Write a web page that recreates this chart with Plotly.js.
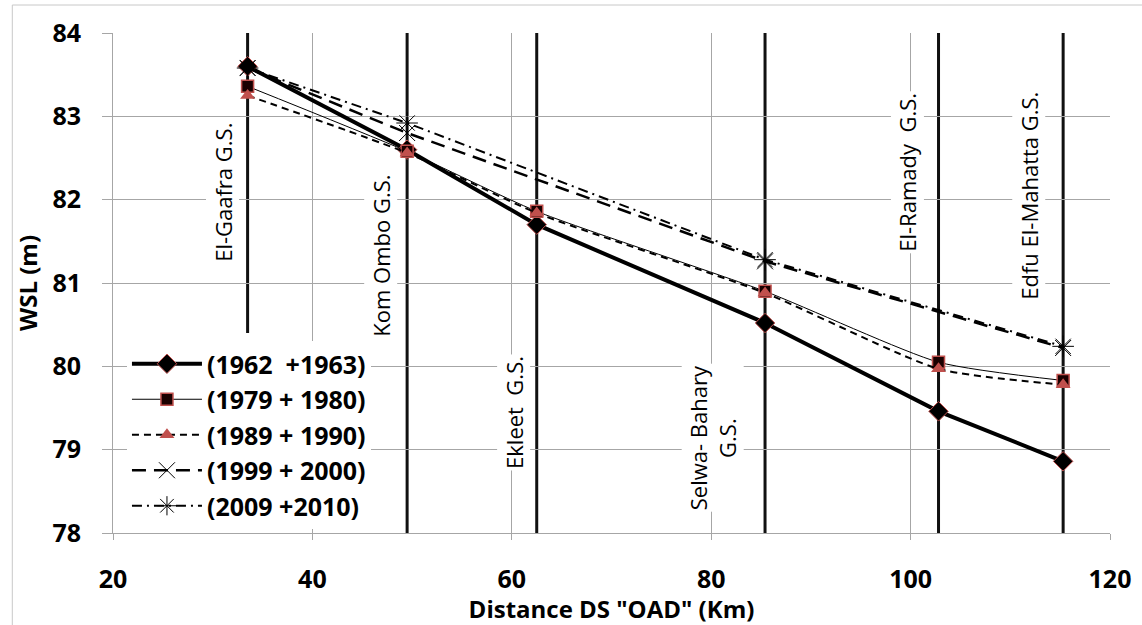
<!DOCTYPE html>
<html>
<head>
<meta charset="utf-8">
<script src="https://cdn.plot.ly/plotly-3.0.1.min.js"></script>
<style>html,body{margin:0;padding:0;background:#fff;}#chart{width:1142px;height:625px;}</style>
</head>
<body>
<div id="chart"></div>
<script>
// Station positions (km downstream of OAD)
const stationNames = ["El-Gaafra G.S.", "Kom Ombo G.S.", "Ekleet  G.S.", "Selwa- Bahary<br>G.S.", "El-Ramady  G.S.", "Edfu El-Mahatta G.S."];
const stationX = [33.5, 49.5, 62.5, 85.4, 102.8, 115.3];
const stationLineBottom = [80.4, 78, 78, 78, 78, 78];
const labelX = [31.0, 46.8, 60.2, 80.1, 99.7, 111.8];
const labelY = [82.09, 81.33, 79.45, 79.14, 82.33, 82.05];

// Water surface levels (m)
const x1962 = [33.5, 49.5, 62.5, 85.4, 102.8, 115.3];
const wsl1962 = [83.60, 82.60, 81.70, 80.52, 79.46, 78.86];
const x1979 = [33.5, 49.5, 62.5, 85.4, 102.8, 115.3];
const wsl1979 = [83.36, 82.58, 81.86, 80.90, 80.05, 79.83];
const x1989 = [33.5, 49.5, 62.5, 85.4, 102.8, 115.3];
const wsl1989 = [83.25, 82.56, 81.84, 80.88, 79.97, 79.78];
const x1999 = [33.5, 49.5, 85.4, 115.3];
const wsl1999 = [83.58, 82.80, 81.26, 80.22];
const x2009 = [33.5, 49.5, 85.4, 115.3];
const wsl2009 = [83.58, 82.92, 81.28, 80.24];

const seriesNames = ["(1962  +1963)", "(1979 + 1980)", "(1989 + 1990)", "(1999 + 2000)", "(2009 +2010)"];

const red = "#c0504d";
const traces = [
  {x: x1962, y: wsl1962, name: seriesNames[0], mode: "lines+markers",
   line: {color: "#000", width: 4},
   marker: {symbol: "diamond", size: 15, color: "#000", line: {color: red, width: 1}}},
  {x: x1979, y: wsl1979, name: seriesNames[1], mode: "lines+markers",
   line: {color: "#000", width: 1, shape: "spline", smoothing: 0.6},
   marker: {symbol: "square", size: 12, color: "#1a0000", line: {color: red, width: 1.5}}},
  {x: x1989, y: wsl1989, name: seriesNames[2], mode: "lines+markers",
   line: {color: "#000", width: 2, dash: "7px,5px", shape: "spline", smoothing: 0.6},
   marker: {symbol: "triangle-up", size: 13, color: red}},
  {x: x1999, y: wsl1999, name: seriesNames[3], mode: "lines+markers",
   line: {color: "#000", width: 2.5, dash: "14px,8px"},
   marker: {symbol: "x-thin-open", size: 16, color: "#000", line: {color: "#333", width: 1}}},
  {x: x2009, y: wsl2009, name: seriesNames[4], mode: "lines+markers",
   line: {color: "#000", width: 2, dash: "10px,5px,2px,5px"},
   marker: {symbol: "asterisk-open", size: 18, color: "#000", line: {color: "#333", width: 1}}}
];

const shapes = stationX.map((sx, i) => ({
  type: "line", xref: "x", yref: "y", x0: sx, x1: sx, y0: 84, y1: stationLineBottom[i],
  line: {color: "#111", width: 3}, layer: "below"
}));
shapes.push({type: "rect", xref: "paper", yref: "paper", x0: -0.101, x1: 1.05, y0: -0.25, y1: 1.056,
  line: {color: "#c8c8c8", width: 1}});

const annotations = stationNames.map((t, i) => ({
  x: labelX[i], y: labelY[i], xref: "x", yref: "y", text: t, showarrow: false,
  textangle: -90, bgcolor: "rgba(255,255,255,1)",
  font: {family: "Open Sans, Liberation Sans, sans-serif", size: 22, color: "#000"}
}));

const tickFont = {family: "Open Sans, Liberation Sans, sans-serif", size: 25, color: "#000", weight: "bold"};
const titleFont = {family: "Open Sans, Liberation Sans, sans-serif", size: 24, color: "#000", weight: "bold"};

const layout = {
  width: 1142, height: 625,
  margin: {l: 113, r: 32, t: 33, b: 92},
  paper_bgcolor: "#fff", plot_bgcolor: "#fff",
  showlegend: true,
  legend: {x: 0.014, y: 0.384, xanchor: "left", yanchor: "top", bgcolor: "#fff",
    font: {family: "Open Sans, Liberation Sans, sans-serif", size: 25, color: "#000", weight: "bold"},
    tracegroupgap: 0, itemwidth: 70},
  xaxis: {range: [20, 120], tickvals: [20, 40, 60, 80, 100, 120], showgrid: true, gridcolor: "#a6a6a6", gridwidth: 1,
    zeroline: false, showline: true, linecolor: "#a6a6a6", ticks: "outside", ticklen: 6, tickcolor: "#a6a6a6",
    tickfont: tickFont, ticklabelstandoff: 18,
    title: {text: "Distance DS \"OAD\" (Km)", font: titleFont, standoff: 0}},
  yaxis: {range: [78, 84], dtick: 1, showgrid: true, gridcolor: "#a6a6a6", gridwidth: 1,
    zeroline: false, showline: true, linecolor: "#a6a6a6", ticks: "outside", ticklen: 10, tickcolor: "#a6a6a6",
    tickfont: tickFont, ticklabelstandoff: 16,
    title: {text: "WSL (m)", font: titleFont, standoff: 8}},
  shapes: shapes,
  annotations: annotations
};

Plotly.newPlot("chart", traces, layout, {displayModeBar: false, staticPlot: true});
</script>
</body>
</html>
